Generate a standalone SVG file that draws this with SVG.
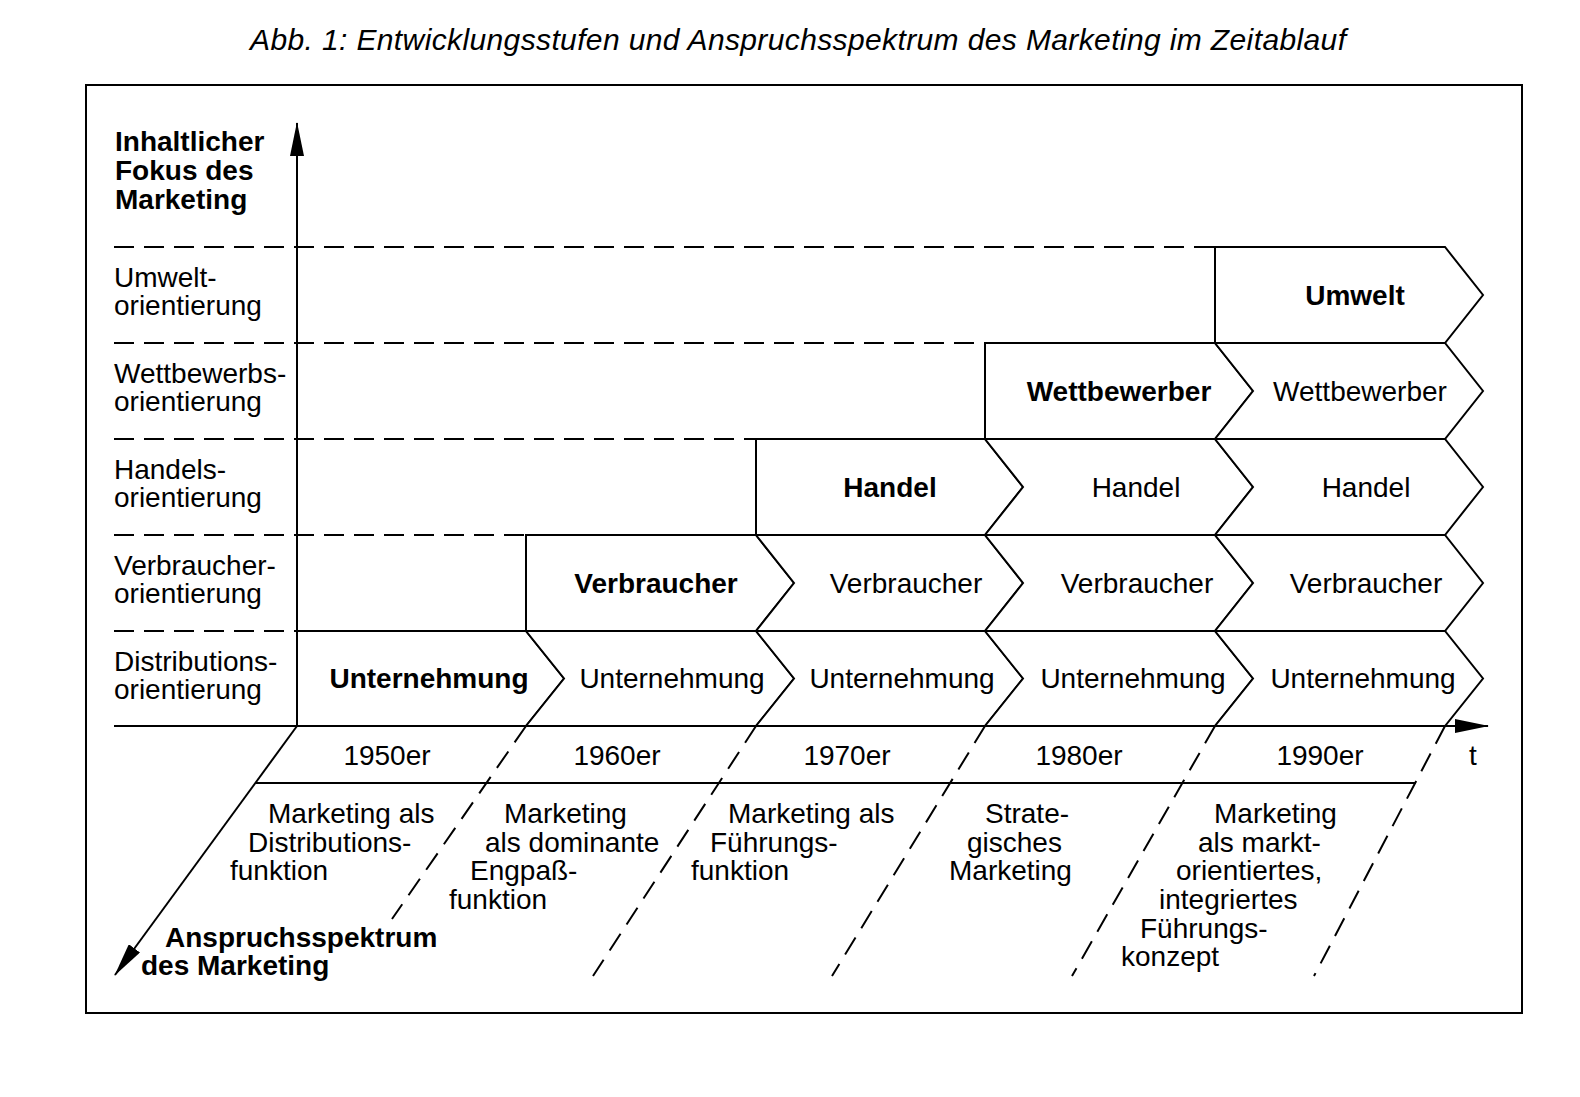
<svg xmlns="http://www.w3.org/2000/svg" width="1580" height="1097" viewBox="0 0 1580 1097">
<style>
  text { font-family: "Liberation Sans", Arial, Helvetica, sans-serif; font-size: 28px; fill: #000; }
  .b { font-weight: bold; }
  .c { text-anchor: middle; }
  .title { font-style: italic; font-size: 30px; text-anchor: middle; }
  .cell { fill: #fff; stroke: #000; stroke-width: 2; stroke-linejoin: miter; }
  .dash { stroke: #000; stroke-width: 2; stroke-dasharray: 20 10; fill: none; }
  .ddash { stroke: #000; stroke-width: 2; stroke-dasharray: 20 11; fill: none; }
  .solid { stroke: #000; stroke-width: 2; fill: none; }
</style>
<defs>
  <marker id="arrow" markerUnits="userSpaceOnUse" markerWidth="34" markerHeight="14" refX="33" refY="7" orient="auto">
    <path d="M0,0 L34,7 L0,14 Z" fill="#000"/>
  </marker>
</defs>
<rect x="0" y="0" width="1580" height="1097" fill="#fff"/>
<text class="title" x="798" y="50" textLength="1096" lengthAdjust="spacing">Abb. 1: Entwicklungsstufen und Anspruchsspektrum des Marketing im Zeitablauf</text>
<rect x="86" y="85" width="1436" height="928" fill="none" stroke="#000" stroke-width="2"/>

<g id="axis-labels">
  <text class="b" x="115" y="151">Inhaltlicher</text>
  <text class="b" x="115" y="180">Fokus des</text>
  <text class="b" x="115" y="209">Marketing</text>
  <text class="b" x="165" y="947">Anspruchsspektrum</text>
  <text class="b" x="141" y="975">des Marketing</text>
  <text class="c" x="1473" y="765">t</text>
</g>

<g id="row-labels">
  <text x="114" y="287">Umwelt-</text>
  <text x="114" y="315">orientierung</text>
  <text x="114" y="383">Wettbewerbs-</text>
  <text x="114" y="411">orientierung</text>
  <text x="114" y="479">Handels-</text>
  <text x="114" y="507">orientierung</text>
  <text x="114" y="575">Verbraucher-</text>
  <text x="114" y="603">orientierung</text>
  <text x="114" y="671">Distributions-</text>
  <text x="114" y="699">orientierung</text>
</g>

<g id="connectors">
  <line class="dash" x1="114" y1="247" x2="1215" y2="247"/>
  <line class="dash" x1="114" y1="343" x2="985" y2="343"/>
  <line class="dash" x1="114" y1="439" x2="756" y2="439"/>
  <line class="dash" x1="114" y1="535" x2="526" y2="535"/>
  <line class="dash" x1="114" y1="631" x2="297" y2="631"/>
  <line class="solid" x1="297" y1="726" x2="297" y2="123" marker-end="url(#arrow)"/>
  <line class="solid" x1="114" y1="726" x2="1488" y2="726" marker-end="url(#arrow)"/>
  <line class="solid" x1="297" y1="726" x2="115" y2="975" marker-end="url(#arrow)"/>
  <line class="solid" x1="256" y1="783" x2="1416" y2="783"/>
  <line class="ddash" x1="526" y1="726" x2="392" y2="919"/>
  <line class="ddash" x1="756" y1="726" x2="593" y2="976"/>
  <line class="ddash" x1="985" y1="726" x2="832" y2="976"/>
  <line class="ddash" x1="1215" y1="726" x2="1072" y2="976"/>
  <line class="ddash" x1="1445" y1="726" x2="1314" y2="976"/>
</g>

<g id="row-umwelt">
  <g id="umwelt-1990"><polygon class="cell" points="1215,247 1445,247 1483,295 1445,343 1215,343"/><text class="b c" x="1355" y="305">Umwelt</text></g>
</g>
<g id="row-wettbewerber">
  <g id="wettbewerber-1980"><polygon class="cell" points="985,343 1215,343 1253,391 1215,439 985,439"/><text class="b c" x="1119" y="401">Wettbewerber</text></g>
  <g id="wettbewerber-1990"><polygon class="cell" points="1215,343 1445,343 1483,391 1445,439 1215,439 1253,391"/><text class="c" x="1360" y="401">Wettbewerber</text></g>
</g>
<g id="row-handel">
  <g id="handel-1970"><polygon class="cell" points="756,439 985,439 1023,487 985,535 756,535"/><text class="b c" x="890" y="497">Handel</text></g>
  <g id="handel-1980"><polygon class="cell" points="985,439 1215,439 1253,487 1215,535 985,535 1023,487"/><text class="c" x="1136" y="497">Handel</text></g>
  <g id="handel-1990"><polygon class="cell" points="1215,439 1445,439 1483,487 1445,535 1215,535 1253,487"/><text class="c" x="1366" y="497">Handel</text></g>
</g>
<g id="row-verbraucher">
  <g id="verbraucher-1960"><polygon class="cell" points="526,535 756,535 794,583 756,631 526,631"/><text class="b c" x="656" y="593">Verbraucher</text></g>
  <g id="verbraucher-1970"><polygon class="cell" points="756,535 985,535 1023,583 985,631 756,631 794,583"/><text class="c" x="906" y="593">Verbraucher</text></g>
  <g id="verbraucher-1980"><polygon class="cell" points="985,535 1215,535 1253,583 1215,631 985,631 1023,583"/><text class="c" x="1137" y="593">Verbraucher</text></g>
  <g id="verbraucher-1990"><polygon class="cell" points="1215,535 1445,535 1483,583 1445,631 1215,631 1253,583"/><text class="c" x="1366" y="593">Verbraucher</text></g>
</g>
<g id="row-unternehmung">
  <g id="unternehmung-1950"><polygon class="cell" points="297,631 526,631 564,678.5 526,726 297,726"/><text class="b c" x="429" y="688">Unternehmung</text></g>
  <g id="unternehmung-1960"><polygon class="cell" points="526,631 756,631 794,678.5 756,726 526,726 564,678.5"/><text class="c" x="672" y="688">Unternehmung</text></g>
  <g id="unternehmung-1970"><polygon class="cell" points="756,631 985,631 1023,678.5 985,726 756,726 794,678.5"/><text class="c" x="902" y="688">Unternehmung</text></g>
  <g id="unternehmung-1980"><polygon class="cell" points="985,631 1215,631 1253,678.5 1215,726 985,726 1023,678.5"/><text class="c" x="1133" y="688">Unternehmung</text></g>
  <g id="unternehmung-1990"><polygon class="cell" points="1215,631 1445,631 1483,678.5 1445,726 1215,726 1253,678.5"/><text class="c" x="1363" y="688">Unternehmung</text></g>
</g>

<g id="years">
  <text class="c" x="387" y="765">1950er</text>
  <text class="c" x="617" y="765">1960er</text>
  <text class="c" x="847" y="765">1970er</text>
  <text class="c" x="1079" y="765">1980er</text>
  <text class="c" x="1320" y="765">1990er</text>
</g>

<g id="phase-1950">
  <text x="268" y="823">Marketing als</text>
  <text x="248" y="852">Distributions-</text>
  <text x="230" y="880">funktion</text>
</g>
<g id="phase-1960">
  <text x="504" y="823">Marketing</text>
  <text x="485" y="852">als dominante</text>
  <text x="470" y="880">Engpaß-</text>
  <text x="449" y="909">funktion</text>
</g>
<g id="phase-1970">
  <text x="728" y="823">Marketing als</text>
  <text x="710" y="852">Führungs-</text>
  <text x="691" y="880">funktion</text>
</g>
<g id="phase-1980">
  <text x="985" y="823">Strate-</text>
  <text x="967" y="852">gisches</text>
  <text x="949" y="880">Marketing</text>
</g>
<g id="phase-1990">
  <text x="1214" y="823">Marketing</text>
  <text x="1198" y="852">als markt-</text>
  <text x="1176" y="880">orientiertes,</text>
  <text x="1159" y="909">integriertes</text>
  <text x="1140" y="938">Führungs-</text>
  <text x="1121" y="966">konzept</text>
</g>
</svg>
